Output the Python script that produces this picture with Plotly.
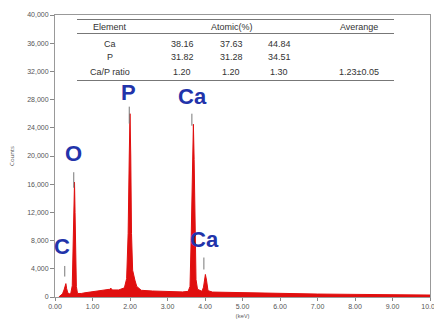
import plotly.graph_objects as go

# Spectrum (keV, counts)
energy = [0.10, 0.15, 0.20, 0.24, 0.27, 0.29, 0.31, 0.34, 0.38, 0.42, 0.46, 0.49, 0.505, 0.52, 0.535,
          0.55, 0.57, 0.60, 0.65, 0.70, 0.80, 1.00, 1.20, 1.40, 1.46, 1.49, 1.53, 1.70, 1.85, 1.91,
          1.95, 1.98, 2.00, 2.02, 2.04, 2.07, 2.10, 2.13, 2.18, 2.30, 2.60, 3.00, 3.40, 3.55, 3.60,
          3.63, 3.66, 3.69, 3.71, 3.73, 3.76, 3.80, 3.86, 3.92, 3.96, 3.99, 4.01, 4.04, 4.08, 4.20,
          5.00, 6.00, 7.00, 8.00, 9.00, 10.00]
counts = [0, 250, 450, 1000, 1800, 1900, 1200, 600, 450, 500, 1600, 8000, 13500, 16300, 12000,
          5000, 1500, 500, 450, 500, 600, 750, 850, 950, 1100, 1250, 1000, 1000, 1300, 2600,
          9000, 20000, 26000, 20000, 9000, 3800, 2900, 2400, 1500, 950, 850, 780, 720, 800, 1500,
          8000, 19000, 24500, 19500, 9000, 2500, 1100, 900, 800, 1400, 2700, 3200, 2400, 900, 700,
          600, 500, 420, 370, 320, 280]

peak_names = ["C", "O", "P", "Ca", "Ca"]
peak_energy = [0.26, 0.50, 1.98, 3.65, 3.97]
marker_low = [2900, 15500, 24600, 24300, 3900]
marker_high = [4400, 17700, 27000, 26000, 5600]
label_x = [0.19, 0.48, 1.97, 3.67, 3.99]
label_y = [7100, 20300, 29000, 28400, 8100]

x_ticks = [0, 1, 2, 3, 4, 5, 6, 7, 8, 9, 10]
y_ticks = [0, 4000, 8000, 12000, 16000, 20000, 24000, 28000, 32000, 36000, 40000]

tbl_header = ["Element", "Atomic(%)", "Averange"]
tbl_elements = ["Ca", "P", "Ca/P ratio"]
tbl_v1 = ["38.16", "31.82", "1.20"]
tbl_v2 = ["37.63", "31.28", "1.20"]
tbl_v3 = ["44.84", "34.51", "1.30"]
tbl_avg = ["", "", "1.23±0.05"]

fig = go.Figure()
fig.add_trace(go.Scatter(x=energy, y=counts, mode="lines", fill="tozeroy",
                         line=dict(color="#e00f0f", width=1), fillcolor="#e00f0f",
                         hoverinfo="skip", showlegend=False))
for e, lo, hi in zip(peak_energy, marker_low, marker_high):
    fig.add_trace(go.Scatter(x=[e, e], y=[lo, hi], mode="lines",
                             line=dict(color="#777777", width=1), showlegend=False, hoverinfo="skip"))
for n, lx, ly in zip(peak_names, label_x, label_y):
    fig.add_annotation(x=lx, y=ly, text="<b>" + n + "</b>", showarrow=False,
                       font=dict(family="Arial, Liberation Sans", size=22, color="#2233aa"))

# table layout helpers (pixel -> paper)
L, R, T, B = 55, 430, 15, 297
def px(x):
    return (x - L) / (R - L)
def py(y):
    return (B - y) / (B - T)

tfont = dict(family="Arial, Liberation Sans", size=9, color="#333333")
for y in [19.5, 33.5, 80.5]:
    fig.add_shape(type="line", xref="paper", yref="paper", x0=px(77), x1=px(394),
                  y0=py(y), y1=py(y), line=dict(color="#777777", width=1))
for cx, txt in zip([110, 232, 359], tbl_header):
    fig.add_annotation(xref="paper", yref="paper", x=px(cx), y=py(27), text=txt,
                       xanchor="center", yanchor="middle", showarrow=False, font=tfont)
row_y = [43.5, 57.5, 71.5]
for i, ry in enumerate(row_y):
    for cx, col in zip([110, 182, 231, 279, 359], [tbl_elements, tbl_v1, tbl_v2, tbl_v3, tbl_avg]):
        fig.add_annotation(xref="paper", yref="paper", x=px(cx), y=py(ry), text=col[i],
                           xanchor="center", yanchor="middle", showarrow=False, font=tfont)

axfont = dict(family="Arial, Liberation Sans", size=7, color="#555555")
fig.update_layout(
    width=434, height=320, margin=dict(l=L, r=434 - R, t=T, b=320 - B, autoexpand=False),
    paper_bgcolor="white", plot_bgcolor="white",
    xaxis=dict(range=[0, 10], tickvals=x_ticks, tickformat=".2f", ticks="outside", ticklen=3,
               tickcolor="#888888", showline=True, linecolor="#999999", mirror=True,
               showgrid=False, zeroline=False, tickfont=axfont, automargin=False,
               ticklabeloverflow="allow",
               title=dict(text="(keV)", font=dict(size=6, color="#555555"), standoff=7)),
    yaxis=dict(range=[0, 40000], tickvals=y_ticks, tickformat=",", ticks="outside", ticklen=4,
               tickcolor="#888888", showline=True, linecolor="#999999", mirror=True,
               showgrid=False, zeroline=False, tickfont=axfont, automargin=False,
               title=dict(text="Counts", font=dict(size=6, color="#555555"), standoff=12)),
)
fig.write_html("out.html", config={"displayModeBar": False},
               post_script="document.body.style.margin='0';document.body.style.overflow='hidden';")
